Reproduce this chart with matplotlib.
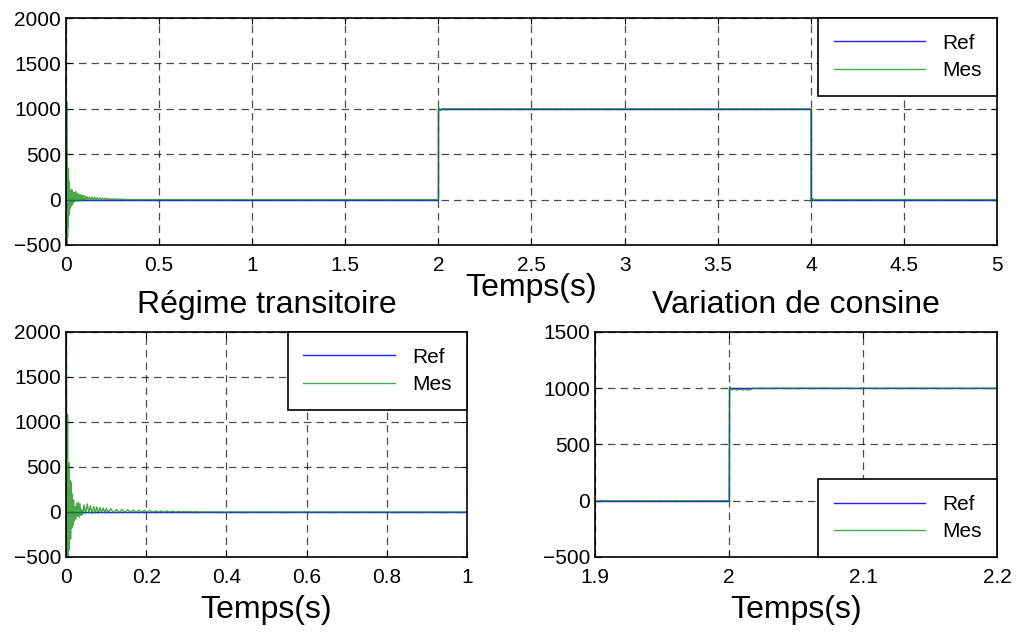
import matplotlib.pyplot as plt
import numpy as np

plt.rcParams['font.family'] = ['Liberation Sans', 'DejaVu Sans']

# consigne (Ref)
t_ref = [0, 2, 2, 4, 4, 5]
ref = [0, 0, 1000, 1000, 0, 0]

# mesure (Mes) : regime transitoire au demarrage
t_mes_dem = [0, 0.001, 0.0025, 0.004, 0.0055, 0.007, 0.0085, 0.010, 0.0115, 0.013,
             0.0145, 0.016, 0.0175, 0.019, 0.021, 0.023, 0.025, 0.027, 0.029, 0.031,
             0.033, 0.035, 0.037, 0.039, 0.042, 0.045, 0.049, 0.053, 0.057, 0.061,
             0.065, 0.069, 0.073, 0.077, 0.081, 0.085, 0.089, 0.093, 0.097, 0.101,
             0.105, 0.112, 0.119, 0.126, 0.133, 0.140, 0.147, 0.154, 0.161, 0.168,
             0.175, 0.182, 0.189, 0.196, 0.203, 0.210, 0.217, 0.224, 0.231, 0.238,
             0.245, 0.252, 0.259, 0.266, 0.273, 0.280, 0.287, 0.294, 0.301, 0.308,
             0.315, 0.322, 0.330, 0.340]
mes_dem = [0, 2000, -500, 1080, -500, 550, -420, 350, -300, 330,
           -180, 200, -150, 130, -100, 60, -80, 100, -50, 110,
           -60, 90, -40, 30, -30, 80, -20, 90, -10, 70,
           -20, 60, -10, 55, -15, 50, -10, 45, -10, 40,
           -5, 35, -10, 30, -8, 28, -6, 25, -5, 22,
           -5, 20, -4, 18, -4, 16, -3, 14, -3, 12,
           -2, 10, -2, 9, -2, 8, -1, 6, -1, 5,
           -1, 3, 0, 0]

# mesure (Mes) : echelon a t = 2 s puis retour a 0 a t = 4 s
t_mes_ech = [2.0, 2.0005, 2.002, 2.004, 2.006, 2.008, 2.010, 2.012, 2.014, 2.016,
             2.018, 4.0, 4.0005, 4.002, 4.004, 4.006, 4.008, 4.010, 4.012, 4.016, 5.0]
mes_ech = [0, 1015, 985, 995, 982, 992, 984, 990, 983, 988,
           1000, 1000, -15, 12, 2, 14, 4, 12, 6, 0, 0]

t_mes = t_mes_dem + t_mes_ech
mes = mes_dem + mes_ech

fig = plt.figure(figsize=(10.18, 6.34), dpi=100)
ax1 = fig.add_axes([0.0648, 0.6136, 0.9146, 0.358])
ax2 = fig.add_axes([0.0648, 0.1215, 0.3939, 0.3549])
ax3 = fig.add_axes([0.5845, 0.1215, 0.3949, 0.3549])

for ax in [ax1, ax2, ax3]:
    ax.plot(t_ref, ref, color='#2020ff', lw=1, label='Ref')
    ax.plot(t_mes, mes, color='#108a10', lw=1, alpha=0.75, label='Mes')
    ax.grid(True, color='k', linestyle=(0, (6, 4)), linewidth=0.9, alpha=0.7)
    ax.tick_params(direction='in', top=True, right=True, labelsize=15, length=4)
    ax.tick_params(axis='x', pad=8)
    for s in ax.spines.values():
        s.set_linewidth(1.2)

ax1.set_xlim(0, 5)
ax1.set_ylim(-500, 2000)
ax1.set_xticks(np.arange(0, 5.01, 0.5))
ax1.set_xticklabels(['0', '0.5', '1', '1.5', '2', '2.5', '3', '3.5', '4', '4.5', '5'])
ax1.set_yticks([-500, 0, 500, 1000, 1500, 2000])
ax1.set_xlabel('Temps(s)', fontsize=23)
ax1.xaxis.set_label_coords(0.5, -0.125)

ax2.set_xlim(0, 1)
ax2.set_ylim(-500, 2000)
ax2.set_xticks([0, 0.2, 0.4, 0.6, 0.8, 1])
ax2.set_xticklabels(['0', '0.2', '0.4', '0.6', '0.8', '1'])
ax2.set_yticks([-500, 0, 500, 1000, 1500, 2000])
ax2.set_xlabel('Temps(s)', fontsize=23, labelpad=6)
ax2.set_title('Régime transitoire', fontsize=23, pad=14)

ax3.set_xlim(1.9, 2.2)
ax3.set_ylim(-500, 1500)
ax3.set_xticks([1.9, 2.0, 2.1, 2.2])
ax3.set_xticklabels(['1.9', '2', '2.1', '2.2'])
ax3.set_yticks([-500, 0, 500, 1000, 1500])
ax3.set_xlabel('Temps(s)', fontsize=23, labelpad=6)
ax3.set_title('Variation de consine', fontsize=23, pad=14)

leg_opts = dict(fontsize=15, fancybox=False, edgecolor='k', framealpha=1,
                borderaxespad=0, handlelength=4.4, handletextpad=0.8,
                borderpad=0.75, labelspacing=0.4)
l1 = ax1.legend(loc='upper right', **leg_opts)
l2 = ax2.legend(loc='upper right', **leg_opts)
l3 = ax3.legend(loc='lower right', **leg_opts)
for l in [l1, l2, l3]:
    l.get_frame().set_linewidth(1.2)

plt.savefig('out.png', dpi=100)
